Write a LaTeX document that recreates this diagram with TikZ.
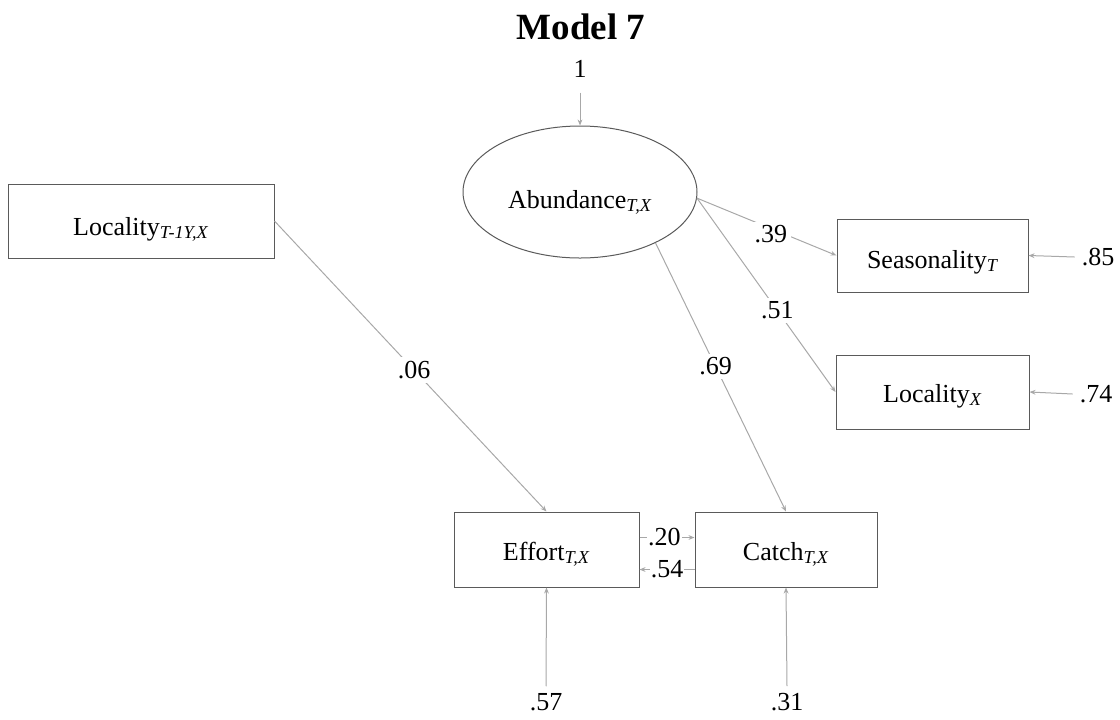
\documentclass[tikz,border=0pt]{standalone}
\usepackage{fontspec}
\setmainfont{Liberation Serif}
\usepackage{xcolor}
\usetikzlibrary{arrows.meta,shapes.geometric}
\definecolor{boxline}{HTML}{5A5A5A}
\definecolor{pathline}{HTML}{A8A8A8}
\newcommand{\sub}[1]{\textsubscript{\itshape #1}}

\begin{document}
\begin{tikzpicture}[x=0.5pt,y=-0.5pt,font=\fontsize{13}{15}\selectfont,
  var/.style={draw=boxline,line width=0.5pt,inner sep=0pt,minimum height=37pt,text height=14pt,text depth=0pt},
  path/.style={draw=pathline,line width=0.5pt,-{Stealth[length=3pt,width=2.4pt]}},
  coef/.style={fill=white,inner sep=2pt}]

\useasboundingbox (0,0) rectangle (1120,719);

\node (title) at (581,27) {\fontsize{18.5}{20}\selectfont\bfseries Model 7};
\node (one) at (580,69) {1};

% latent
\node[var,ellipse,minimum width=117pt,minimum height=66pt,text height=16pt] (abund) at (580,192) {Abundance\sub{T,X}};

% observed
\node[var,minimum width=133pt] (loclag) at (141,221) {Locality\sub{T-1Y,X}};
\node[var,minimum width=95.5pt,minimum height=36.5pt,text height=12.5pt] (season) at (932.5,255.5) {Seasonality\sub{T}};
\node[var,minimum width=96.5pt,text height=10pt] (locx) at (932.5,392) {Locality\sub{X}};
\node[var,minimum width=92.5pt,minimum height=37.5pt,text height=10.5pt] (effort) at (546.5,549.5) {Effort\sub{T,X}};
\node[var,minimum width=91pt,minimum height=37.5pt,text height=10.5pt] (catch) at (786,549.5) {Catch\sub{T,X}};

% error terms
\node (e85) at (1098,257) {.85};
\node (e74) at (1096,394) {.74};
\node (e57) at (546,702) {.57};
\node (e31) at (787,702) {.31};

\draw[path,shorten <=4pt] (one.south) -- (abund.north);
\draw[path] (abund.-3) -- node[coef,pos=0.53,yshift=-3pt] {.39} (season.west);
\draw[path] (abund.-3) -- node[coef,pos=0.58] {.51} (locx.west);
\draw[path] (abund.-34) -- node[coef,pos=0.46] {.69} (catch.north);
\draw[path] (loclag.east) -- node[coef,pos=0.513] {.06} (effort.north);
\draw[path] ([yshift=6pt]effort.east) -- node[coef,inner sep=0.5pt,pos=0.45] {.20} ([yshift=6pt]catch.west);
\draw[path] ([yshift=-10pt]catch.west) -- node[coef,inner sep=0.5pt] {.54} ([yshift=-10pt]effort.east);

\draw[path] (e85.west) -- (season.east);
\draw[path] (e74.west) -- (locx.east);
\draw[path] (e57.north) -- (effort.south);
\draw[path] (e31.north) -- (catch.south);

\end{tikzpicture}
\end{document}
